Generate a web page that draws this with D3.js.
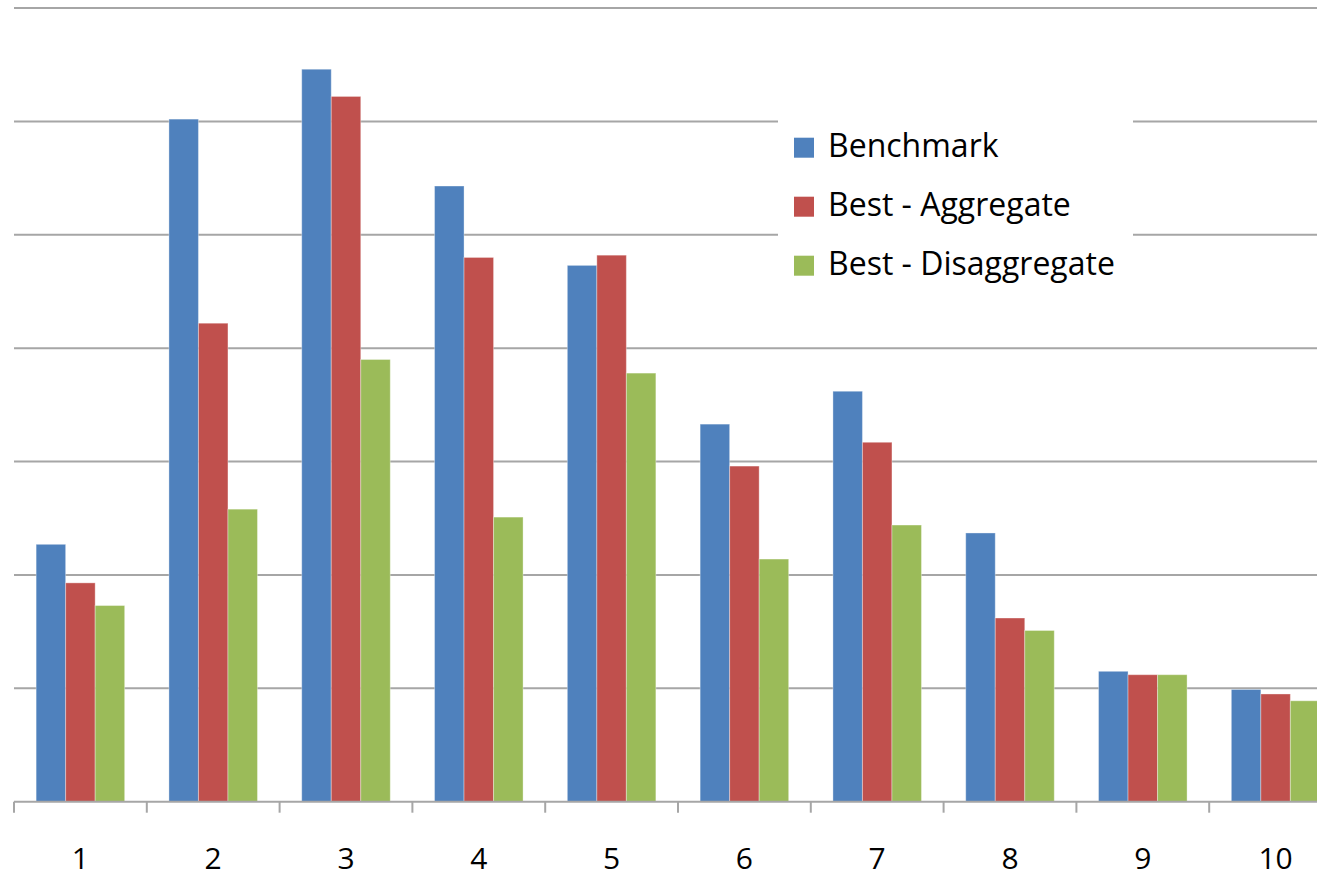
<!DOCTYPE html>
<html>
<head>
<meta charset="utf-8">
<script src="https://cdn.jsdelivr.net/npm/d3@7"></script>
<style>
  html, body { margin: 0; padding: 0; background: #fff; }
  svg { display: block; }
  text { font-family: "Open Sans", "Noto Sans", sans-serif; fill: #000; }
</style>
</head>
<body>
<svg id="chart" width="1317" height="878"></svg>
<script>
// Categories along the x axis
const categories = ["1", "2", "3", "4", "5", "6", "7", "8", "9", "10"];

// Series names and values (one value per category)
const seriesNames = ["Benchmark", "Best - Aggregate", "Best - Disaggregate"];
const benchmark = [2.27, 6.02, 6.46, 5.43, 4.73, 3.33, 3.62, 2.37, 1.15, 0.99];
const bestAggregate = [1.93, 4.22, 6.22, 4.80, 4.82, 2.96, 3.17, 1.62, 1.12, 0.95];
const bestDisaggregate = [1.73, 2.58, 3.90, 2.51, 3.78, 2.14, 2.44, 1.51, 1.12, 0.89];

// Value axis gridlines (no labels shown)
const yTicks = [1, 2, 3, 4, 5, 6, 7];

const colors = ["#4F81BD", "#C0504D", "#9BBB59"];
const seriesValues = [benchmark, bestAggregate, bestDisaggregate];

const svg = d3.select("#chart");
const W = 1317, H = 878;

// Plot area: the last category runs past the right edge of the canvas
const band = 132.8;
const x0 = 14;
const x = d3.scaleBand()
  .domain(categories)
  .range([x0, x0 + band * categories.length])
  .paddingInner(0)
  .paddingOuter(0);

const y = d3.scaleLinear().domain([0, 7]).range([801.7, 8]);

const xSub = d3.scaleBand()
  .domain(seriesNames)
  .range([0, band])
  .paddingInner(0)
  .paddingOuter(0.75);

// Horizontal gridlines
svg.append("g")
  .selectAll("line")
  .data(yTicks)
  .join("line")
  .attr("x1", x0)
  .attr("x2", W)
  .attr("y1", d => y(d))
  .attr("y2", d => y(d))
  .attr("stroke", "#a6a6a6")
  .attr("stroke-width", 2);

// Bars
const rows = categories.map((c, i) => ({
  cat: c,
  vals: seriesNames.map((s, j) => ({ series: s, value: seriesValues[j][i], color: colors[j] }))
}));

svg.append("g")
  .selectAll("g")
  .data(rows)
  .join("g")
  .attr("transform", d => `translate(${x(d.cat)},0)`)
  .selectAll("rect")
  .data(d => d.vals)
  .join("rect")
  .attr("x", d => xSub(d.series))
  .attr("width", xSub.bandwidth())
  .attr("y", d => y(d.value))
  .attr("height", d => y(0) - y(d.value))
  .attr("fill", d => d.color)
  .attr("stroke", "rgba(255,255,255,0.35)")
  .attr("stroke-width", 1);

// Category axis with tick marks between categories
const xAxis = svg.append("g");
xAxis.append("line")
  .attr("x1", x0).attr("x2", W)
  .attr("y1", y(0)).attr("y2", y(0))
  .attr("stroke", "#a6a6a6")
  .attr("stroke-width", 2);

xAxis.selectAll("line.tick")
  .data(categories)
  .join("line")
  .attr("class", "tick")
  .attr("x1", d => x(d)).attr("x2", d => x(d))
  .attr("y1", y(0)).attr("y2", y(0) + 11)
  .attr("stroke", "#a6a6a6")
  .attr("stroke-width", 2);

xAxis.selectAll("text")
  .data(categories)
  .join("text")
  .attr("x", d => x(d) + x.bandwidth() / 2)
  .attr("y", 869)
  .attr("text-anchor", "middle")
  .attr("font-size", 30)
  .text(d => d);

// Legend
const legend = svg.append("g");
legend.append("rect")
  .attr("x", 778).attr("y", 100)
  .attr("width", 355).attr("height", 200)
  .attr("fill", "#fff");

const items = legend.selectAll("g.item")
  .data(seriesNames)
  .join("g")
  .attr("class", "item")
  .attr("transform", (d, i) => `translate(794,${137.7 + i * 59})`);

items.append("rect")
  .attr("width", 20).attr("height", 20)
  .attr("fill", (d, i) => colors[i]);

items.append("text")
  .attr("x", 34)
  .attr("y", 19.5)
  .attr("font-size", 32)
  .text(d => d);
</script>
</body>
</html>
